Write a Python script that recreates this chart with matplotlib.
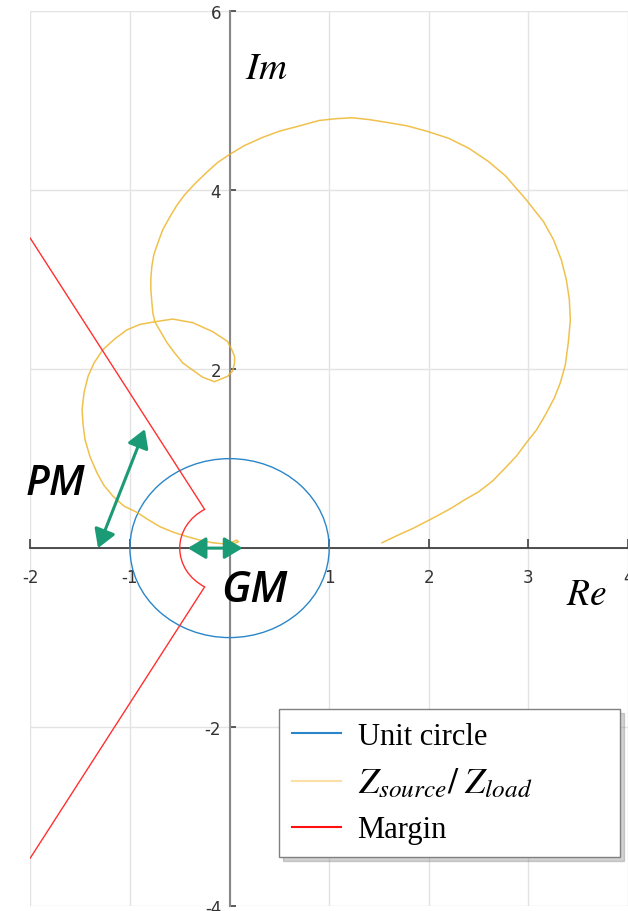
import matplotlib
matplotlib.use("Agg")
import matplotlib.pyplot as plt
from matplotlib.patches import Circle, Arc, FancyArrowPatch
from matplotlib.lines import Line2D
import numpy as np

# Z_source / Z_load の軌跡 (Re, Im)
z_re = [1.53, 1.70, 1.84, 1.98, 2.10, 2.23, 2.36, 2.50, 2.64, 2.77, 2.88, 2.98,
        3.08, 3.17, 3.26, 3.32, 3.37, 3.40, 3.42, 3.41, 3.38, 3.33, 3.25, 3.15,
        2.98, 2.77, 2.60, 2.40, 2.20, 1.98, 1.78, 1.57, 1.40, 1.23, 1.07, 0.90,
        0.67, 0.50, 0.33, 0.15, 0.00, -0.12, -0.23, -0.35, -0.45, -0.53, -0.60,
        -0.67, -0.72, -0.76, -0.78, -0.79, -0.79, -0.78, -0.77, -0.75,
        -0.63, -0.55, -0.47, -0.27, -0.15, -0.02, 0.03, 0.05, 0.05, 0.03, -0.02,
        -0.17, -0.37, -0.57, -0.75, -0.90, -1.03, -1.15, -1.27, -1.36, -1.42,
        -1.46, -1.48, -1.47, -1.45, -1.40, -1.33, -1.26, -1.17, -1.06, -0.93,
        -0.82, -0.70, -0.57, -0.43, -0.30, -0.17, -0.08, 0.00, 0.07, 0.09, 0.04]
z_im = [0.06, 0.15, 0.22, 0.30, 0.37, 0.45, 0.54, 0.63, 0.75, 0.90, 1.03, 1.18,
        1.32, 1.49, 1.68, 1.85, 2.05, 2.30, 2.55, 2.78, 3.00, 3.22, 3.45, 3.65,
        3.89, 4.16, 4.32, 4.47, 4.58, 4.66, 4.72, 4.76, 4.79, 4.81, 4.80, 4.78,
        4.71, 4.66, 4.59, 4.50, 4.40, 4.31, 4.20, 4.07, 3.95, 3.83, 3.70,
        3.56, 3.41, 3.28, 3.15, 3.01, 2.89, 2.75, 2.63, 2.53,
        2.30, 2.18, 2.07, 1.91, 1.86, 1.92, 1.98, 2.07, 2.14, 2.20, 2.31,
        2.42, 2.52, 2.56, 2.53, 2.50, 2.44, 2.34, 2.22, 2.07, 1.92,
        1.74, 1.55, 1.38, 1.21, 1.02, 0.84, 0.70, 0.58, 0.47, 0.40,
        0.32, 0.24, 0.18, 0.13, 0.09, 0.06, 0.05, 0.05, 0.09, 0.07, 0.05]

# 安定余裕 (位相余裕 60deg, ゲイン余裕 0.5)
pm_deg = 60
gm = 0.5
r_max = 4.0

# 矢印 (PM, GM)
pm_arrow = [(-1.32, 0.0), (-0.85, 1.33)]
gm_arrow = [(-0.42, 0.0), (0.13, 0.0)]

xticks = [-2, -1, 1, 2, 3, 4]
yticks = [-4, -2, 2, 4, 6]

plt.rcParams["mathtext.fontset"] = "stix"

fig = plt.figure(figsize=(6.28, 9.12), dpi=100)
ax = fig.add_axes([0.0482, 0.0055, 0.952, 0.981])
ax.set_xlim(-2, 4)
ax.set_ylim(-4, 6)

# 軸は原点を通す
ax.spines["left"].set_position(("data", 0))
ax.spines["bottom"].set_position(("data", 0))
ax.spines["right"].set_visible(False)
ax.spines["top"].set_visible(False)
ax.spines["left"].set_color("#888888")
ax.spines["left"].set_linewidth(1.5)
ax.spines["bottom"].set_color("#404040")
ax.spines["bottom"].set_linewidth(1.3)

ax.set_xticks(xticks)
ax.set_yticks(yticks)
ax.set_xticklabels([str(v) for v in xticks])
ax.set_yticklabels([str(v) for v in yticks])
tick_font = ["Liberation Sans Narrow", "DejaVu Sans"]
for lab in ax.get_xticklabels() + ax.get_yticklabels():
    lab.set_family(tick_font)
    lab.set_fontsize(12)
    lab.set_color("#333333")
ax.tick_params(axis="x", direction="in", length=6.5, width=1.2, color="#404040", pad=14)
ax.tick_params(axis="y", direction="in", length=4.5, width=1.2, color="#404040", pad=6)

# グリッド
for v in range(-2, 5):
    ax.axvline(v, color="#e3e3e3", lw=1.0, zorder=0)
for v in range(-4, 7, 2):
    ax.axhline(v, color="#e3e3e3", lw=1.0, zorder=0)

# 単位円
ax.add_patch(Circle((0, 0), 1.0, fill=False, ec="#2a86c8", lw=1.0, zorder=3))

# Z_source / Z_load
ax.plot(z_re, z_im, color="#edb120", lw=1.1, alpha=0.8, zorder=3)

# マージン境界 (半直線 + ゲイン余裕の円弧)
ang = np.deg2rad(180 - pm_deg)
ax.plot([gm * np.cos(ang), r_max * np.cos(ang)], [gm * np.sin(ang), r_max * np.sin(ang)],
        color="#ff3030", lw=1.0, zorder=3)
ax.plot([gm * np.cos(ang), r_max * np.cos(ang)], [-gm * np.sin(ang), -r_max * np.sin(ang)],
        color="#ff3030", lw=1.0, zorder=3)
ax.add_patch(Arc((0, 0), 2 * gm, 2 * gm, theta1=180 - pm_deg, theta2=180 + pm_deg,
                 color="#ff3030", lw=1.0, zorder=3))

# 矢印
for a, b in (pm_arrow, gm_arrow):
    ax.add_patch(FancyArrowPatch(a, b, arrowstyle="<|-|>,head_length=1.0,head_width=0.6",
                                 mutation_scale=11, lw=2.2, color="#1b9a76",
                                 shrinkA=0, shrinkB=0, zorder=5, clip_on=False))

ax.text(0.15, 5.25, "$Im$", fontsize=28, color="black")
ax.text(3.38, -0.63, "$Re$", fontsize=27, color="black")
ax.text(-2.05, 0.61, "PM", fontsize=30, style="italic", weight="semibold",
        family="Open Sans", color="black", clip_on=False)
ax.text(-0.08, -0.59, "GM", fontsize=31, style="italic", weight="semibold",
        family="Open Sans", color="black")

handles = [
    Line2D([], [], color="#2a86c8", lw=1.5),
    Line2D([], [], color="#fbdfa6", lw=1.5),
    Line2D([], [], color="#ff1010", lw=1.5),
]
labels = ["Unit circle", r"$Z_{source}/\;Z_{load}$", "Margin"]
leg = ax.legend(handles, labels, loc="lower left", mode="expand",
                bbox_to_anchor=(0.416, 0.0547, 0.570, 0.1),
                prop={"family": "Liberation Serif", "size": 22}, frameon=True,
                fancybox=False, edgecolor="#808080", framealpha=1.0,
                shadow={"ox": 3, "oy": -3, "color": "0.5", "alpha": 0.35},
                handlelength=1.6, handletextpad=0.55, labelspacing=0.5,
                borderpad=0.42, borderaxespad=0)
leg.get_frame().set_linewidth(1.0)
leg.get_texts()[1].set_fontsize(26)

fig.savefig("out.png", dpi=100)
